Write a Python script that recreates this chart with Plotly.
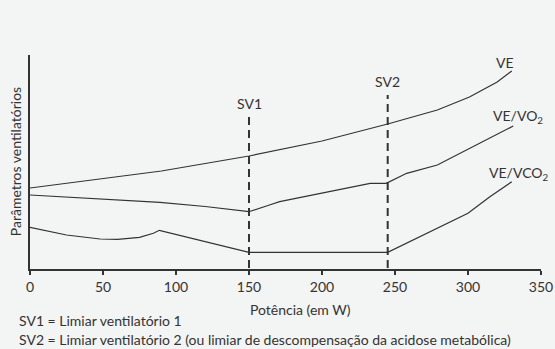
import plotly.graph_objects as go

# Power (W) vs ventilatory parameters (arbitrary units)
ve_x = [0, 90, 150, 164, 200, 245, 279, 301, 320, 330]
ve_y = [80, 97, 112, 116, 127, 144, 158, 171, 186, 197]

vevo2_x = [0, 89, 120, 150, 164, 171, 199, 233, 244, 258, 279, 331]
vevo2_y = [73, 65.7, 61.5, 56.3, 63, 66.3, 74.7, 84.7, 84.7, 94.7, 103, 142]

vevco2_x = [0, 25, 48, 60, 75, 84.5, 88.6, 150, 245, 300, 315, 330]
vevco2_y = [40.7, 33, 29, 28.7, 30.7, 34.7, 37.7, 15.7, 15.7, 54.7, 71.3, 86.3]

thresholds = ["SV1", "SV2"]
threshold_x = [150, 245]
threshold_top = [151, 173]

curve_labels = ["VE", "VE/VO<sub>2</sub>", "VE/VCO<sub>2</sub>"]
curve_label_x = [318, 316, 313]
curve_label_y = [206, 152, 95]

x_ticks = [0, 50, 100, 150, 200, 250, 300, 350]

notes = [
    "SV1 = Limiar ventilatório 1",
    "SV2 = Limiar ventilatório 2 (ou limiar de descompensação da acidose metabólica)",
]

INK = "#333333"
BG = "#f3f4f4"
FONT = "Lato"
SIZE = 14

fig = go.Figure()

for xs, ys in [(ve_x, ve_y), (vevo2_x, vevo2_y), (vevco2_x, vevco2_y)]:
    fig.add_trace(go.Scatter(x=xs, y=ys, mode="lines",
                             line=dict(color=INK, width=1.2),
                             hoverinfo="skip", showlegend=False))

for name, xv, top in zip(thresholds, threshold_x, threshold_top):
    fig.add_trace(go.Scatter(x=[xv, xv], y=[0, top], mode="lines",
                             line=dict(color=INK, width=2, dash="8px,5px"),
                             hoverinfo="skip", showlegend=False))
    fig.add_annotation(x=xv, y=top + 3, text=name, showarrow=False,
                       yanchor="bottom", xanchor="center",
                       font=dict(family=FONT, size=SIZE, color=INK))

for txt, lx, ly in zip(curve_labels, curve_label_x, curve_label_y):
    fig.add_annotation(x=lx, y=ly, text=txt, showarrow=False,
                       xanchor="left", yanchor="middle",
                       font=dict(family=FONT, size=SIZE, color=INK))

# axis titles
fig.add_annotation(x=185.5, xref="x", y=-0.19, yref="paper", text="Potência (em W)",
                   showarrow=False, xanchor="center", yanchor="middle",
                   font=dict(family=FONT, size=SIZE, color=INK))
fig.add_annotation(x=-0.029, xref="paper", y=0.5, yref="paper",
                   text="Parâmetros ventilatórios", textangle=-90,
                   showarrow=False, xanchor="center", yanchor="middle",
                   font=dict(family=FONT, size=SIZE, color=INK))

for i, note in enumerate(notes):
    fig.add_annotation(x=-0.026, xref="paper", y=-0.24 - i * 0.09, yref="paper",
                       text=note, showarrow=False, xanchor="left", yanchor="middle",
                       font=dict(family=FONT, size=SIZE, color=INK))

fig.update_xaxes(range=[0, 350], tickvals=x_ticks, ticks="outside", ticklen=4,
                 tickwidth=2, tickcolor=INK, showline=True, linewidth=2,
                 linecolor=INK, showgrid=False, zeroline=False,
                 tickfont=dict(family=FONT, size=SIZE, color=INK))
fig.update_yaxes(range=[-1, 213], showticklabels=False, ticks="",
                 showline=True, linewidth=2, linecolor=INK,
                 showgrid=False, zeroline=False)

fig.update_layout(width=555, height=349,
                  margin=dict(l=30, r=14, t=55, b=80, autoexpand=False),
                  paper_bgcolor=BG, plot_bgcolor=BG)

fig.write_html("out.html")
